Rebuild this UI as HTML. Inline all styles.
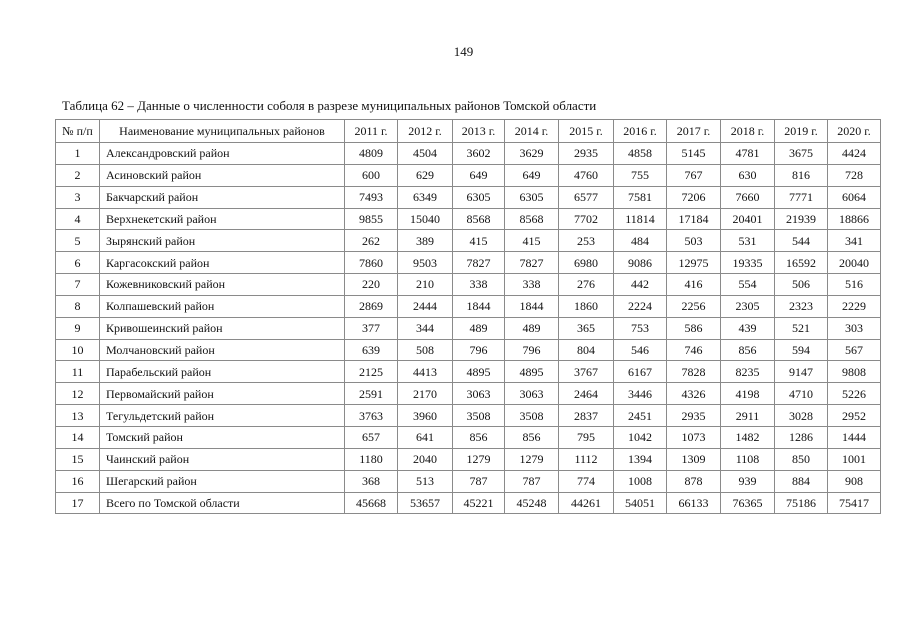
<!DOCTYPE html>
<html><head><meta charset="utf-8"><style>
body{margin:0;width:905px;height:640px;background:#fff;font-family:"Liberation Serif","DejaVu Serif",serif;color:#111;position:relative;overflow:hidden}
.pn{position:absolute;left:0;width:905px;top:44px;text-align:center;font-size:13px;padding-left:22px;box-sizing:border-box}
.t{position:absolute;left:62px;top:98px;font-size:13px;font-family:"Liberation Serif",serif}
table{position:absolute;left:55px;top:119px;border-collapse:collapse;font-size:12px;table-layout:fixed;font-family:"Liberation Serif",serif}
tr{height:21.85px}
tr.h{height:23px}
td{border:1.5px solid #8a8a8a;padding:0;text-align:center;font-family:"Liberation Serif",serif;line-height:14px}
td.n{text-align:left;padding-left:6px}
</style></head><body>
<div class="pn">149</div>
<div class="t">Таблица 62 – Данные о численности соболя в разрезе муниципальных районов Томской области</div>
<table>
<colgroup><col style="width:44px"><col style="width:245px"><col style="width:53px"><col style="width:55px"><col style="width:52px"><col style="width:54px"><col style="width:55px"><col style="width:53px"><col style="width:54px"><col style="width:54px"><col style="width:53px"><col style="width:53px"></colgroup>
<tr class="h"><td>№ п/п</td><td>Наименование муниципальных районов</td><td>2011 г.</td><td>2012 г.</td><td>2013 г.</td><td>2014 г.</td><td>2015 г.</td><td>2016 г.</td><td>2017 г.</td><td>2018 г.</td><td>2019 г.</td><td>2020 г.</td></tr>
<tr><td>1</td><td class="n">Александровский район</td><td>4809</td><td>4504</td><td>3602</td><td>3629</td><td>2935</td><td>4858</td><td>5145</td><td>4781</td><td>3675</td><td>4424</td></tr>
<tr><td>2</td><td class="n">Асиновский район</td><td>600</td><td>629</td><td>649</td><td>649</td><td>4760</td><td>755</td><td>767</td><td>630</td><td>816</td><td>728</td></tr>
<tr><td>3</td><td class="n">Бакчарский район</td><td>7493</td><td>6349</td><td>6305</td><td>6305</td><td>6577</td><td>7581</td><td>7206</td><td>7660</td><td>7771</td><td>6064</td></tr>
<tr><td>4</td><td class="n">Верхнекетский район</td><td>9855</td><td>15040</td><td>8568</td><td>8568</td><td>7702</td><td>11814</td><td>17184</td><td>20401</td><td>21939</td><td>18866</td></tr>
<tr><td>5</td><td class="n">Зырянский район</td><td>262</td><td>389</td><td>415</td><td>415</td><td>253</td><td>484</td><td>503</td><td>531</td><td>544</td><td>341</td></tr>
<tr><td>6</td><td class="n">Каргасокский район</td><td>7860</td><td>9503</td><td>7827</td><td>7827</td><td>6980</td><td>9086</td><td>12975</td><td>19335</td><td>16592</td><td>20040</td></tr>
<tr><td>7</td><td class="n">Кожевниковский район</td><td>220</td><td>210</td><td>338</td><td>338</td><td>276</td><td>442</td><td>416</td><td>554</td><td>506</td><td>516</td></tr>
<tr><td>8</td><td class="n">Колпашевский район</td><td>2869</td><td>2444</td><td>1844</td><td>1844</td><td>1860</td><td>2224</td><td>2256</td><td>2305</td><td>2323</td><td>2229</td></tr>
<tr><td>9</td><td class="n">Кривошеинский район</td><td>377</td><td>344</td><td>489</td><td>489</td><td>365</td><td>753</td><td>586</td><td>439</td><td>521</td><td>303</td></tr>
<tr><td>10</td><td class="n">Молчановский район</td><td>639</td><td>508</td><td>796</td><td>796</td><td>804</td><td>546</td><td>746</td><td>856</td><td>594</td><td>567</td></tr>
<tr><td>11</td><td class="n">Парабельский район</td><td>2125</td><td>4413</td><td>4895</td><td>4895</td><td>3767</td><td>6167</td><td>7828</td><td>8235</td><td>9147</td><td>9808</td></tr>
<tr><td>12</td><td class="n">Первомайский район</td><td>2591</td><td>2170</td><td>3063</td><td>3063</td><td>2464</td><td>3446</td><td>4326</td><td>4198</td><td>4710</td><td>5226</td></tr>
<tr><td>13</td><td class="n">Тегульдетский район</td><td>3763</td><td>3960</td><td>3508</td><td>3508</td><td>2837</td><td>2451</td><td>2935</td><td>2911</td><td>3028</td><td>2952</td></tr>
<tr><td>14</td><td class="n">Томский район</td><td>657</td><td>641</td><td>856</td><td>856</td><td>795</td><td>1042</td><td>1073</td><td>1482</td><td>1286</td><td>1444</td></tr>
<tr><td>15</td><td class="n">Чаинский район</td><td>1180</td><td>2040</td><td>1279</td><td>1279</td><td>1112</td><td>1394</td><td>1309</td><td>1108</td><td>850</td><td>1001</td></tr>
<tr><td>16</td><td class="n">Шегарский район</td><td>368</td><td>513</td><td>787</td><td>787</td><td>774</td><td>1008</td><td>878</td><td>939</td><td>884</td><td>908</td></tr>
<tr><td>17</td><td class="n">Всего по Томской области</td><td>45668</td><td>53657</td><td>45221</td><td>45248</td><td>44261</td><td>54051</td><td>66133</td><td>76365</td><td>75186</td><td>75417</td></tr>
</table>
</body></html>
